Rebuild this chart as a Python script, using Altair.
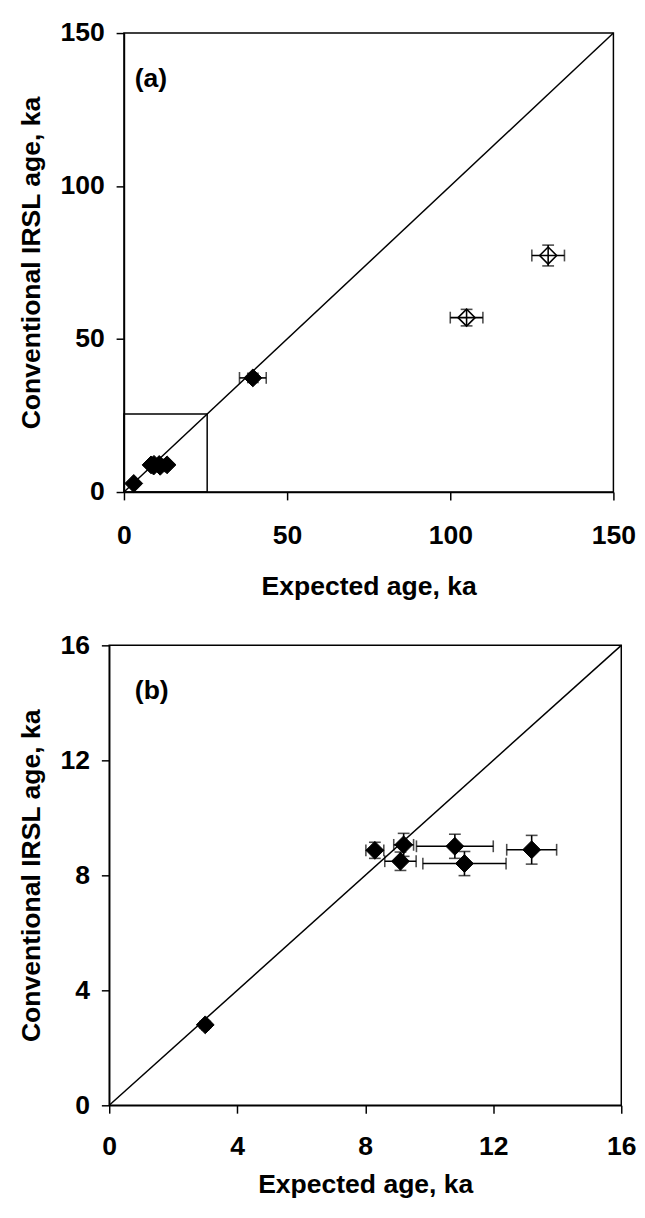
import altair as alt
import pandas as pd

# ---------- data ----------
# Panel (a)
a_x = [3.0, 8.3, 9.2, 9.1, 10.8, 11.1, 13.2, 39.5, 105.0, 130.0]
a_y = [2.8, 8.87, 9.06, 8.49, 9.01, 8.41, 8.89, 37.3, 57.0, 77.3]
a_xerr = [0.1, 0.28, 0.31, 0.49, 1.2, 1.3, 0.78, 4.1, 5.0, 5.0]
a_yerr = [0.1, 0.28, 0.40, 0.32, 0.42, 0.42, 0.5, 1.5, 2.7, 3.4]
a_filled = [True, True, True, True, True, True, True, True, False, False]
a_box = [25.5]
a_ticks = [0, 50, 100, 150]
a_label = "(a)"
a_label_pos = [3.3, 135.0]

# Panel (b)
b_x = [3.0, 8.3, 9.2, 9.1, 10.8, 11.1, 13.2]
b_y = [2.8, 8.87, 9.06, 8.49, 9.01, 8.41, 8.89]
b_xerr = [0.1, 0.28, 0.31, 0.49, 1.2, 1.3, 0.78]
b_yerr = [0.12, 0.28, 0.40, 0.32, 0.42, 0.42, 0.5]
b_ticks = [0, 4, 8, 12, 16]
b_label = "(b)"
b_label_pos = [0.8, 14.4]

x_title = "Expected age, ka"
y_title = "Conventional IRSL age, ka"

FONT = "Liberation Sans"
FS = 27


def panel(xs, ys, xerr, yerr, filled, ticks, label, label_pos, box, w, h, xlp, xtp):
    vmax = ticks[-1]
    df = pd.DataFrame({"x": xs, "y": ys, "xerr": xerr, "yerr": yerr, "filled": filled})
    df["xlo"] = df["x"] - df["xerr"]
    df["xhi"] = df["x"] + df["xerr"]
    df["ylo"] = df["y"] - df["yerr"]
    df["yhi"] = df["y"] + df["yerr"]

    xs_ = alt.Scale(domain=[0, vmax], nice=False, zero=True)
    ys_ = alt.Scale(domain=[0, vmax], nice=False, zero=True)
    xax = alt.Axis(values=ticks, title=x_title, labelPadding=xlp, titlePadding=xtp)
    yax = alt.Axis(values=ticks, title=y_title, labelPadding=12, titlePadding=15)

    X = lambda f: alt.X(f, type="quantitative", scale=xs_, axis=xax)
    Y = lambda f: alt.Y(f, type="quantitative", scale=ys_, axis=yax)

    line_df = pd.DataFrame({"x": [0, vmax], "y": [0, vmax]})
    diag = alt.Chart(line_df).mark_line(color="black", strokeWidth=1.5).encode(
        x=X("x"), y=Y("y"))

    layers = [diag]
    if box:
        bdf = pd.DataFrame({"x0": [0], "y0": [0], "x1": box, "y1": box})
        layers.append(alt.Chart(bdf).mark_rect(filled=False, stroke="black", strokeWidth=1.5).encode(
            x=X("x0"), y=Y("y0"), x2="x1", y2="y1"))

    base = alt.Chart(df)
    hbar = base.mark_rule(color="black", strokeWidth=1.6).encode(x=X("xlo"), x2="xhi", y=Y("y"))
    vbar = base.mark_rule(color="black", strokeWidth=1.6).encode(x=X("x"), y=Y("ylo"), y2="yhi")
    tk = dict(size=12, thickness=1.6, color="black")
    capl = base.mark_tick(orient="vertical", **tk).encode(x=X("xlo"), y=Y("y"))
    capr = base.mark_tick(orient="vertical", **tk).encode(x=X("xhi"), y=Y("y"))
    capb = base.mark_tick(orient="horizontal", **tk).encode(x=X("x"), y=Y("ylo"))
    capt = base.mark_tick(orient="horizontal", **tk).encode(x=X("x"), y=Y("yhi"))
    layers += [hbar, vbar, capl, capr, capb, capt]

    pts_f = base.transform_filter("datum.filled").mark_point(
        shape="diamond", filled=True, size=330, fill="black", stroke="black", strokeWidth=1,
        opacity=1).encode(x=X("x"), y=Y("y"))
    pts_o = base.transform_filter("!datum.filled").mark_point(
        shape="diamond", filled=False, size=300, color="black", strokeWidth=1.6,
        opacity=1).encode(x=X("x"), y=Y("y"))
    layers += [pts_f, pts_o]

    tdf = pd.DataFrame({"x": [label_pos[0]], "y": [label_pos[1]], "t": [label]})
    txt = alt.Chart(tdf).mark_text(align="left", baseline="middle", font=FONT, fontSize=FS,
                                   fontWeight="bold", color="black").encode(
        x=X("x"), y=Y("y"), text="t:N")
    layers.append(txt)

    plot = alt.layer(*layers).properties(width=w, height=h)
    spacer = alt.Chart(pd.DataFrame({"s": [0]})).mark_point(
        opacity=0, size=0, strokeWidth=0).properties(
        width=1, height=1, view=alt.ViewBackground(stroke="transparent"))
    return alt.hconcat(spacer, plot, spacing=0)


pa = panel(a_x, a_y, a_xerr, a_yerr, a_filled, a_ticks, a_label, a_label_pos, a_box,
           498, 467, 23, 26)
pb = panel(b_x, b_y, b_xerr, b_yerr, [True] * len(b_x), b_ticks, b_label, b_label_pos, None,
           521, 468, 21, 13)

chart = alt.vconcat(pa, pb, spacing=31).properties(
    padding={"left": 6, "top": 0, "right": 0, "bottom": 0},
    background="white",
).configure_view(stroke="black", strokeWidth=1.5).configure_axis(
    grid=False,
    domainColor="black", domainWidth=1.5,
    tickColor="black", tickWidth=1.5, tickSize=8,
    labelFont=FONT, labelFontSize=FS, labelFontWeight="bold", labelColor="black",
    titleFont=FONT, titleFontSize=FS, titleFontWeight="bold", titleColor="black",
    labelOverlap=False, labelFlush=False,
)

chart.save("out.html", embed_options={"renderer": "svg", "actions": False})
